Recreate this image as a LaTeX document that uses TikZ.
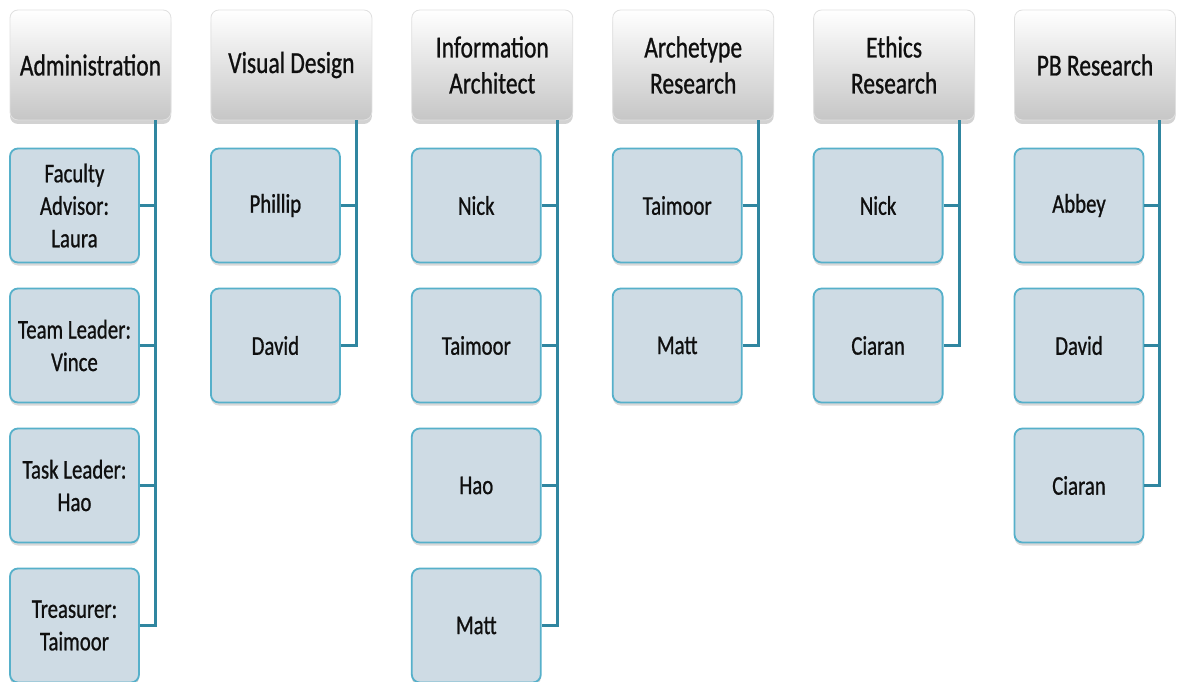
\documentclass[tikz,border=0pt]{standalone}
\usepackage{fontspec}
\setmainfont{Carlito}[FakeStretch=0.77,FakeBold=0.8]
\usetikzlibrary{shadows}
\definecolor{hdbot}{RGB}{198,198,198}
\definecolor{chfill}{RGB}{206,219,228}
\definecolor{chdraw}{RGB}{86,176,202}
\definecolor{conn}{RGB}{48,134,160}
\definecolor{txt}{RGB}{15,15,15}
\tikzset{
  hdr/.style={rectangle, rounded corners=8pt, minimum width=161pt, minimum height=110pt,
    inner sep=0pt, top color=white, bottom color=hdbot, draw=black!12, line width=0.8pt,
    align=center, text=txt, font=\fontsize{30.5}{36}\selectfont,
    drop shadow={opacity=0.35, shadow xshift=0pt, shadow yshift=-4pt}},
  chd/.style={rectangle, rounded corners=8pt, minimum width=129pt, minimum height=114pt,
    inner sep=0pt, fill=chfill, draw=chdraw, line width=1.8pt,
    align=center, text=txt, font=\fontsize{27}{32.5}\selectfont,
    drop shadow={opacity=0.3, shadow xshift=0pt, shadow yshift=-3pt}},
  link/.style={draw=conn, line width=3pt}
}
\begin{document}
\begin{tikzpicture}[x=1pt,y=-1pt]
\clip (0,0) rectangle (1178,682);
\fill[white] (0,0) rectangle (1178,682);
% column lefts: 10 + 200.9*i
\foreach \i/\t in {0/Administration,1/Visual Design,2/{Information\\Architect},3/{Archetype\\Research},4/{Ethics\\Research},5/PB Research}{
  \node[hdr] (h\i) at ({10+200.9*\i+80.5},65) {\t};
  \coordinate (v\i) at ([xshift=-16pt]h\i.south east);
}
% children
\node[chd] (c01) at ({10+64.5},205.5) {Faculty\\Advisor:\\Laura};
\node[chd] (c02) at ({10+64.5},345.5) {Team Leader:\\Vince};
\node[chd] (c03) at ({10+64.5},485.5) {Task Leader:\\Hao};
\node[chd] (c04) at ({10+64.5},625.5) {Treasurer:\\Taimoor};
\node[chd] (c11) at ({10+200.9+64.5},205.5) {Phillip};
\node[chd] (c12) at ({10+200.9+64.5},345.5) {David};
\node[chd] (c21) at ({10+2*200.9+64.5},205.5) {Nick};
\node[chd] (c22) at ({10+2*200.9+64.5},345.5) {Taimoor};
\node[chd] (c23) at ({10+2*200.9+64.5},485.5) {Hao};
\node[chd] (c24) at ({10+2*200.9+64.5},625.5) {Matt};
\node[chd] (c31) at ({10+3*200.9+64.5},205.5) {Taimoor};
\node[chd] (c32) at ({10+3*200.9+64.5},345.5) {Matt};
\node[chd] (c41) at ({10+4*200.9+64.5},205.5) {Nick};
\node[chd] (c42) at ({10+4*200.9+64.5},345.5) {Ciaran};
\node[chd] (c51) at ({10+5*200.9+64.5},205.5) {Abbey};
\node[chd] (c52) at ({10+5*200.9+64.5},345.5) {David};
\node[chd] (c53) at ({10+5*200.9+64.5},485.5) {Ciaran};
% connectors
\draw[link] (v0) |- (c04.east);
\foreach \k in {1,2,3}{\draw[link] (c0\k.east) -- (c0\k.east -| v0);}
\draw[link] (v1) |- (c12.east);
\draw[link] (c11.east) -- (c11.east -| v1);
\draw[link] (v2) |- (c24.east);
\foreach \k in {1,2,3}{\draw[link] (c2\k.east) -- (c2\k.east -| v2);}
\draw[link] (v3) |- (c32.east);
\draw[link] (c31.east) -- (c31.east -| v3);
\draw[link] (v4) |- (c42.east);
\draw[link] (c41.east) -- (c41.east -| v4);
\draw[link] (v5) |- (c53.east);
\foreach \k in {1,2}{\draw[link] (c5\k.east) -- (c5\k.east -| v5);}
\end{tikzpicture}
\end{document}
